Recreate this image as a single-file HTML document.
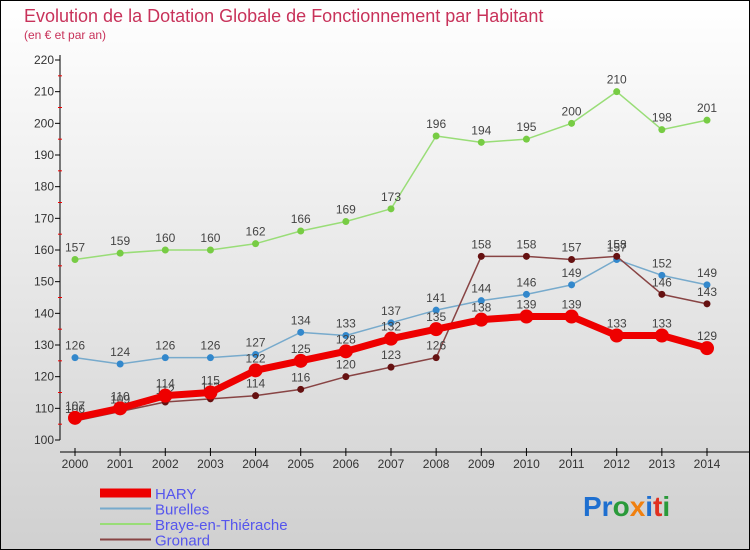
<!DOCTYPE html>
<html><head><meta charset="utf-8"><style>
body{margin:0}
svg{display:block;font-family:"Liberation Sans","DejaVu Sans",sans-serif}
</style></head><body>
<svg width="750" height="550">
<defs><linearGradient id="bg" x1="0" y1="0" x2="0" y2="1"><stop offset="0" stop-color="#ffffff"/><stop offset="1" stop-color="#d0d0d0"/></linearGradient></defs>
<rect x="0.5" y="0.5" width="749" height="549" fill="url(#bg)" stroke="#000"/>
<text x="24" y="22" font-size="18" fill="#c8325a">Evolution de la Dotation Globale de Fonctionnement par Habitant</text>
<text x="24" y="39" font-size="12" fill="#c8325a">(en € et par an)</text>
<g id="axes"></g>
<g id="series"></g>
<g id="legend"></g>
<text x="583" y="516" font-size="28" font-weight="bold"><tspan fill="#1e6fd0">Pr</tspan><tspan fill="#2a9a3a">o</tspan><tspan fill="#f08010">x</tspan><tspan fill="#1e6fd0">i</tspan><tspan fill="#e03020">t</tspan><tspan fill="#2a9a3a">i</tspan></text>
</svg>
<script>
const years=[2000,2001,2002,2003,2004,2005,2006,2007,2008,2009,2010,2011,2012,2013,2014];
const yTicks=[100,110,120,130,140,150,160,170,180,190,200,210,220];
const hary=[107,110,114,115,122,125,128,132,135,138,139,139,133,133,129];
const burelles=[126,124,126,126,127,134,133,137,141,144,146,149,157,152,149];
const braye=[157,159,160,160,162,166,169,173,196,194,195,200,210,198,201];
const gronard=[106,109,112,113,114,116,120,123,126,158,158,157,158,146,143];
const NS="http://www.w3.org/2000/svg";
const X=i=>75+i*(707-75)/14;
const Y=v=>440-(v-100)*(380/120);
function mk(t,a,p){const e=document.createElementNS(NS,t);for(const k in a)e.setAttribute(k,a[k]);p.appendChild(e);return e;}
const ax=document.getElementById('axes');
let yl=mk('line',{x1:60,y1:55,x2:60,y2:440,stroke:'#000'},ax);

yTicks.forEach(v=>{
 mk('line',{x1:55,x2:60,y1:Y(v),y2:Y(v),stroke:'#000'},ax);
 const t=mk('text',{x:54,y:Y(v)+4,'text-anchor':'end','font-size':12,fill:'#333'},ax);t.textContent=v;
 
 if(v<220)mk('line',{x1:58,x2:62,y1:Y(v+5),y2:Y(v+5),stroke:'#e00'},ax);
});
let xl=mk('line',{x1:60,y1:452,x2:750,y2:452,stroke:'#000'},ax);

years.forEach((y,i)=>{
 mk('line',{x1:X(i),x2:X(i),y1:448,y2:456,stroke:'#000'},ax);
 const t=mk('text',{x:X(i),y:468,'text-anchor':'middle','font-size':12,fill:'#333'},ax);t.textContent=y;
 
});
const sg=document.getElementById('series');
function draw(name,d,col,dot,w,r){
 const g=mk('g',{},sg);
 mk('polyline',{points:d.map((v,i)=>X(i)+','+Y(v)).join(' '),fill:'none',stroke:col,'stroke-width':w,'stroke-linejoin':'round'},g);
 d.forEach((v,i)=>{
  const c=mk('circle',{cx:X(i),cy:Y(v),r:r,fill:dot},g);
  
  const t=mk('text',{x:X(i),y:Y(v)-8,'text-anchor':'middle','font-size':12,fill:'#444'},g);t.textContent=v;
  
 });
}
draw('braye',braye,'#99dd77','#77cc44',1.5,3.5);
draw('burelles',burelles,'#77aacc','#3388cc',1.5,3.5);
draw('gronard',gronard,'#884444','#661111',1.5,3.5);
draw('hary',hary,'#ee0000','#ee0000',7,7);
const lg=document.getElementById('legend');
[['HARY','#ee0000',9],['Burelles','#77aacc',2],['Braye-en-Thiérache','#99dd77',2],['Gronard','#884444',2]].forEach((s,i)=>{
 const y=493+i*15.5;
 const g=mk('g',{},lg);
 mk('line',{x1:100,x2:151,y1:y,y2:y,stroke:s[1],'stroke-width':s[2]},g);
 const t=mk('text',{x:155,y:y+6,'font-size':15,fill:'#5555ee'},g);t.textContent=s[0];
});
</script>
</body></html>
